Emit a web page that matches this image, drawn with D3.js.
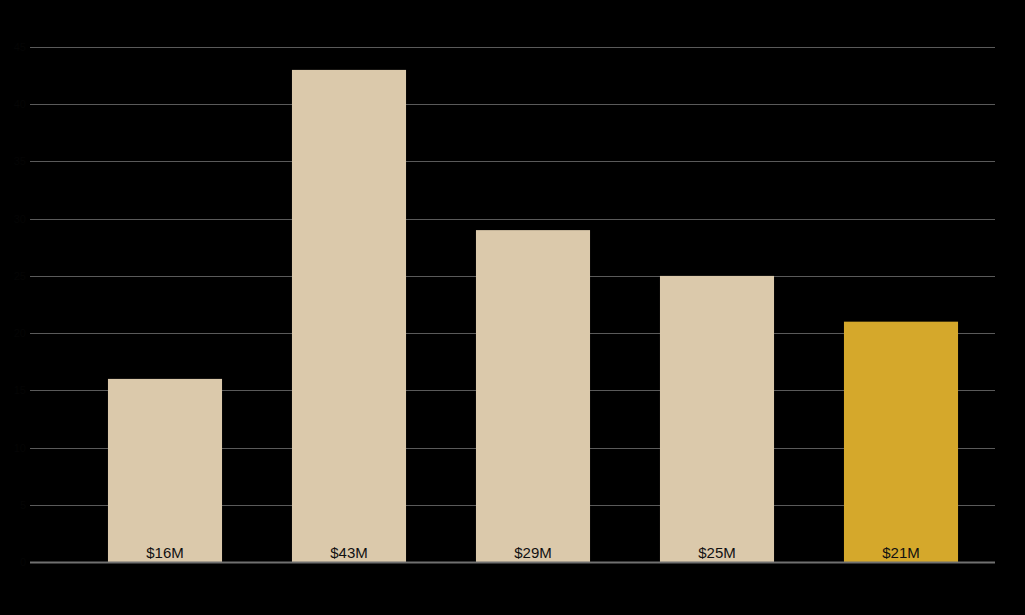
<!DOCTYPE html>
<html>
<head>
<meta charset="utf-8">
<script src="https://cdn.jsdelivr.net/npm/d3@7"></script>
<style>
  html, body { margin: 0; padding: 0; background: #000; }
  svg { display: block; }
</style>
</head>
<body>
<svg id="chart" width="1025" height="615"></svg>
<script>
const categories = ['A', 'B', 'C', 'D', 'E'];
const values = [16, 43, 29, 25, 21];
const labels = ['$16M', '$43M', '$29M', '$25M', '$21M'];
const highlight = [false, false, false, false, true];
const yTicks = [0, 5, 10, 15, 20, 25, 30, 35, 40, 45];

const svg = d3.select('#chart');
const W = 1025, H = 615;
svg.append('rect').attr('width', W).attr('height', H).attr('fill', '#000');

const gridLeft = 30, gridRight = 995;
const yBottom = 562, yTop = 47;

const x = d3.scaleBand()
    .domain(categories)
    .range([73, 993])
    .paddingInner(0.38)
    .paddingOuter(0.19);

const y = d3.scaleLinear().domain([0, 45]).range([yBottom, yTop]);

// gridlines
svg.append('g').selectAll('line')
  .data(yTicks.filter(d => d > 0))
  .enter().append('line')
    .attr('x1', gridLeft).attr('x2', gridRight)
    .attr('y1', d => Math.round(y(d)) + 0.5)
    .attr('y2', d => Math.round(y(d)) + 0.5)
    .attr('stroke', '#5a5a5a')
    .attr('stroke-width', 1);

// y tick labels (black on black, as in the source)
svg.append('g').selectAll('text')
  .data(yTicks)
  .enter().append('text')
    .attr('x', gridLeft - 4)
    .attr('y', d => y(d) + 4)
    .attr('text-anchor', 'end')
    .attr('font-family', 'Liberation Sans, Arial, sans-serif')
    .attr('font-size', 11)
    .attr('fill', '#050505')
    .text(d => d);

// bars
svg.append('g').selectAll('rect')
  .data(values)
  .enter().append('rect')
    .attr('x', (d, i) => x(categories[i]))
    .attr('y', d => y(d))
    .attr('width', x.bandwidth())
    .attr('height', d => yBottom - y(d))
    .attr('fill', (d, i) => highlight[i] ? '#d5a82b' : '#dbc9ab');

// value labels inside bars
svg.append('g').selectAll('text')
  .data(values)
  .enter().append('text')
    .attr('x', (d, i) => x(categories[i]) + x.bandwidth() / 2)
    .attr('y', yBottom - 4)
    .attr('text-anchor', 'middle')
    .attr('font-family', 'Liberation Sans, Arial, sans-serif')
    .attr('font-size', 15)
    .attr('fill', '#111')
    .attr('transform-origin', 'center')
    .text((d, i) => labels[i]);

// baseline
svg.append('line')
  .attr('x1', gridLeft).attr('x2', gridRight)
  .attr('y1', yBottom + 0.5).attr('y2', yBottom + 0.5)
  .attr('stroke', '#707070')
  .attr('stroke-width', 2);
</script>
</body>
</html>
